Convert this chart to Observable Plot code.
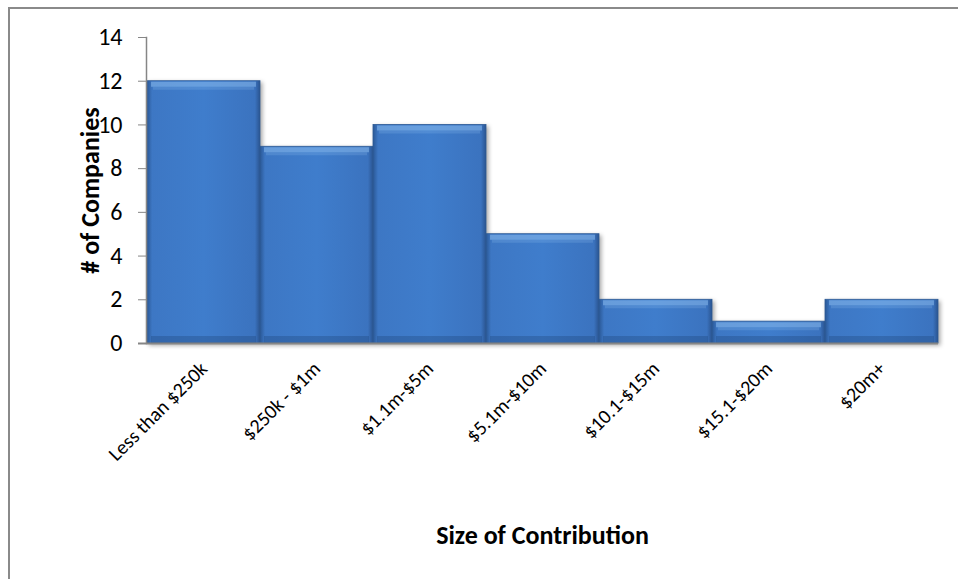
<!DOCTYPE html>
<html>
<head>
<meta charset="utf-8">
<script src="https://cdn.jsdelivr.net/npm/d3@7"></script>
<script src="https://cdn.jsdelivr.net/npm/@observablehq/plot@0.6"></script>
<style>
  html, body { margin: 0; padding: 0; background: #fff; }
  #wrap { position: relative; width: 958px; height: 579px; overflow: hidden; }
  #border {
    position: absolute; left: 8px; top: 7px; right: -10px; bottom: -10px;
    border-left: 2px solid #8a8a8a; border-top: 2px solid #8a8a8a;
    pointer-events: none;
  }
  #chart svg { font-family: Calibri, Carlito, Lato, sans-serif; }
  g[aria-label="y-axis tick label"] { font-size: 24px; }
  g[aria-label="x-axis tick label"] { font-size: 20px; }
  g[aria-label="y-axis label"] text,
  g[aria-label="x-axis label"] text { font-weight: bold; font-size: 26px; }
  g[aria-label="bar"] { filter: drop-shadow(2px 2px 2px rgba(0,0,0,0.35)); }
</style>
</head>
<body>
<div id="wrap">
  <div id="chart"></div>
  <div id="border"></div>
</div>
<script>
// Number of companies by size of contribution
const categories = ["Less than $250k", "$250k - $1m", "$1.1m-$5m", "$5.1m-$10m", "$10.1-$15m", "$15.1-$20m", "$20m+"];
const counts = [12, 9, 10, 5, 2, 1, 2];
const yTicks = [0, 2, 4, 6, 8, 10, 12, 14];

const data = categories.map((c, i) => ({category: c, count: counts[i]}));

// gradient for the bevelled bar faces (darker side edges)
const defs = () => {
  const d = d3.create("svg:defs");
  const g = d.append("linearGradient").attr("id", "faceGrad")
    .attr("x1", 0).attr("x2", 1).attr("y1", 0).attr("y2", 0);
  [[0, "#2a5896"], [0.045, "#3d77c4"], [0.5, "#3f7dcc"], [0.955, "#3b73bf"], [1, "#2a5490"]]
    .forEach(([o, c]) => g.append("stop").attr("offset", o).attr("stop-color", c));
  return d.node();
};

const chart = Plot.plot({
  width: 958,
  height: 579,
  marginLeft: 146,
  marginRight: 20,
  marginTop: 37,
  marginBottom: 236,
  style: {fontFamily: "Calibri, Carlito, Lato, sans-serif", color: "#000", background: "transparent"},
  x: {domain: categories, padding: 0},
  y: {domain: [0, 14]},
  marks: [
    defs,
    Plot.barY(data, {x: "category", y: "count", fill: "url(#faceGrad)", stroke: "#2d5a94", strokeWidth: 0.8}),
    // top highlight bevel
    Plot.tickY(data, {x: "category", y: "count", dy: 3, stroke: "#9ccaf7", strokeOpacity: 0.45, strokeWidth: 5, insetLeft: 4, insetRight: 4}),
    Plot.tickY(data, {x: "category", y: "count", dy: 7, stroke: "#9ccaf7", strokeOpacity: 0.2, strokeWidth: 3, insetLeft: 6, insetRight: 6}),
    // bottom shaded bevel
    Plot.tickY(data, {x: "category", y: () => 0, dy: -4, stroke: "#1c3f70", strokeOpacity: 0.3, strokeWidth: 7, insetLeft: 4, insetRight: 4}),
    Plot.frame({anchor: "left", stroke: "#868686", strokeWidth: 1.5}),
    Plot.ruleY([0], {stroke: "#868686", strokeWidth: 2, insetLeft: -8}),
    Plot.axisY({
      ticks: yTicks, tickSize: 8, tickPadding: 16, stroke: "#868686",
      label: "# of Companies", labelAnchor: "center", labelArrow: "none", labelOffset: 66
    }),
    Plot.axisX({
      tickRotate: -45, tickSize: 0, tickPadding: 22,
      label: "Size of Contribution", labelAnchor: "center", labelArrow: "none", labelOffset: 200
    })
  ]
});

document.getElementById("chart").appendChild(chart);
</script>
</body>
</html>
